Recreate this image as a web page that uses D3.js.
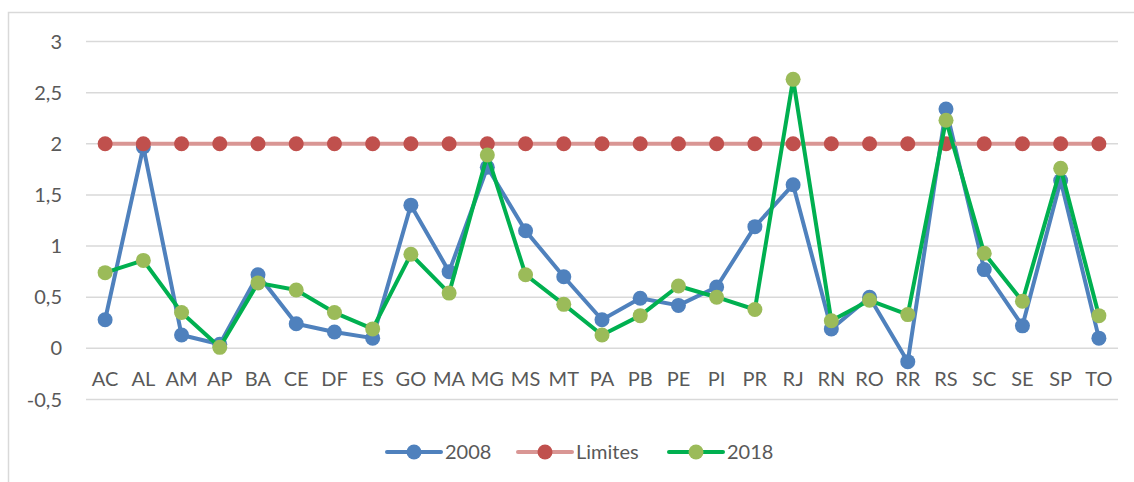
<html>
<head>
<script src="https://d3js.org/d3.v7.min.js"></script>
<style>
  body { margin: 0; background: #fff; }
  text { font-family: Lato, "Open Sans", sans-serif; fill: #595959; }
</style>
</head>
<body>
<div id="chart"></div>
<script>
const states = ["AC","AL","AM","AP","BA","CE","DF","ES","GO","MA","MG","MS","MT","PA","PB","PE","PI","PR","RJ","RN","RO","RR","RS","SC","SE","SP","TO"];
const v2008 = [0.28,1.97,0.13,0.04,0.72,0.24,0.16,0.10,1.40,0.75,1.77,1.15,0.70,0.28,0.49,0.42,0.60,1.19,1.60,0.19,0.50,-0.13,2.34,0.77,0.22,1.64,0.10];
const limites = states.map(() => 2);
const v2018 = [0.74,0.86,0.35,0.01,0.64,0.57,0.35,0.19,0.92,0.54,1.89,0.72,0.43,0.13,0.32,0.61,0.50,0.38,2.63,0.27,0.47,0.33,2.23,0.93,0.46,1.76,0.32];
const yTicks = [-0.5,0,0.5,1,1.5,2,2.5,3];

const series = [
  {name: "2008", values: v2008, line: "#4F81BD", marker: "#4F81BD"},
  {name: "Limites", values: limites, line: "#D99694", marker: "#C0504D"},
  {name: "2018", values: v2018, line: "#00B050", marker: "#9BBB59"}
];

const W = 1134, H = 482;
const svg = d3.select('#chart').append('svg')
  .attr('width', W).attr('height', H);

// chart area border
svg.append('rect')
  .attr('x', 8.5).attr('y', 12.5)
  .attr('width', 1140).attr('height', 490)
  .attr('fill', 'none').attr('stroke', '#D9D9D9').attr('stroke-width', 1.5);

const x = d3.scaleBand().domain(states).range([86, 1118]);
const y = d3.scaleLinear().domain([-0.5, 3]).range([399.5, 41.5]);

// gridlines
svg.append('g').selectAll('line')
  .data(yTicks).enter().append('line')
    .attr('x1', 86).attr('x2', 1118)
    .attr('y1', d => y(d)).attr('y2', d => y(d))
    .attr('stroke', '#D9D9D9').attr('stroke-width', 1.5);

const fmt = d => String(d).replace('.', ',');
svg.append('g').selectAll('text')
  .data(yTicks).enter().append('text')
    .attr('x', 62).attr('y', d => y(d))
    .attr('dy', '0.35em')
    .attr('text-anchor', 'end')
    .style('font-size', '20px')
    .text(fmt);

svg.append('g').selectAll('text')
  .data(states).enter().append('text')
    .attr('x', d => x(d) + x.bandwidth() / 2)
    .attr('y', 386)
    .attr('text-anchor', 'middle')
    .style('font-size', '20px')
    .text(d => d);

const line = d3.line()
  .x((d, i) => x(states[i]) + x.bandwidth() / 2)
  .y(d => y(d));

series.forEach(s => {
  const g = svg.append('g');
  g.append('path')
    .datum(s.values)
    .attr('d', line)
    .attr('fill', 'none')
    .attr('stroke', s.line)
    .attr('stroke-width', 4)
    .attr('stroke-linejoin', 'round');
  g.selectAll('circle')
    .data(s.values).enter().append('circle')
      .attr('cx', (d, i) => x(states[i]) + x.bandwidth() / 2)
      .attr('cy', d => y(d))
      .attr('r', 7.5)
      .attr('fill', s.marker);
});

// legend
const legX = [387, 518, 669];
const legend = svg.append('g');
series.forEach((s, i) => {
  const g = legend.append('g').attr('transform', `translate(${legX[i]},452)`);
  g.append('line').attr('x1', 0).attr('x2', 54)
    .attr('stroke', s.line).attr('stroke-width', 4).attr('stroke-linecap', 'round');
  g.append('circle').attr('cx', 27).attr('r', 7.5).attr('fill', s.marker);
  g.append('text').attr('x', 58).attr('y', 7)
    .style('font-size', '20px').text(s.name);
});
</script>
</body>
</html>
